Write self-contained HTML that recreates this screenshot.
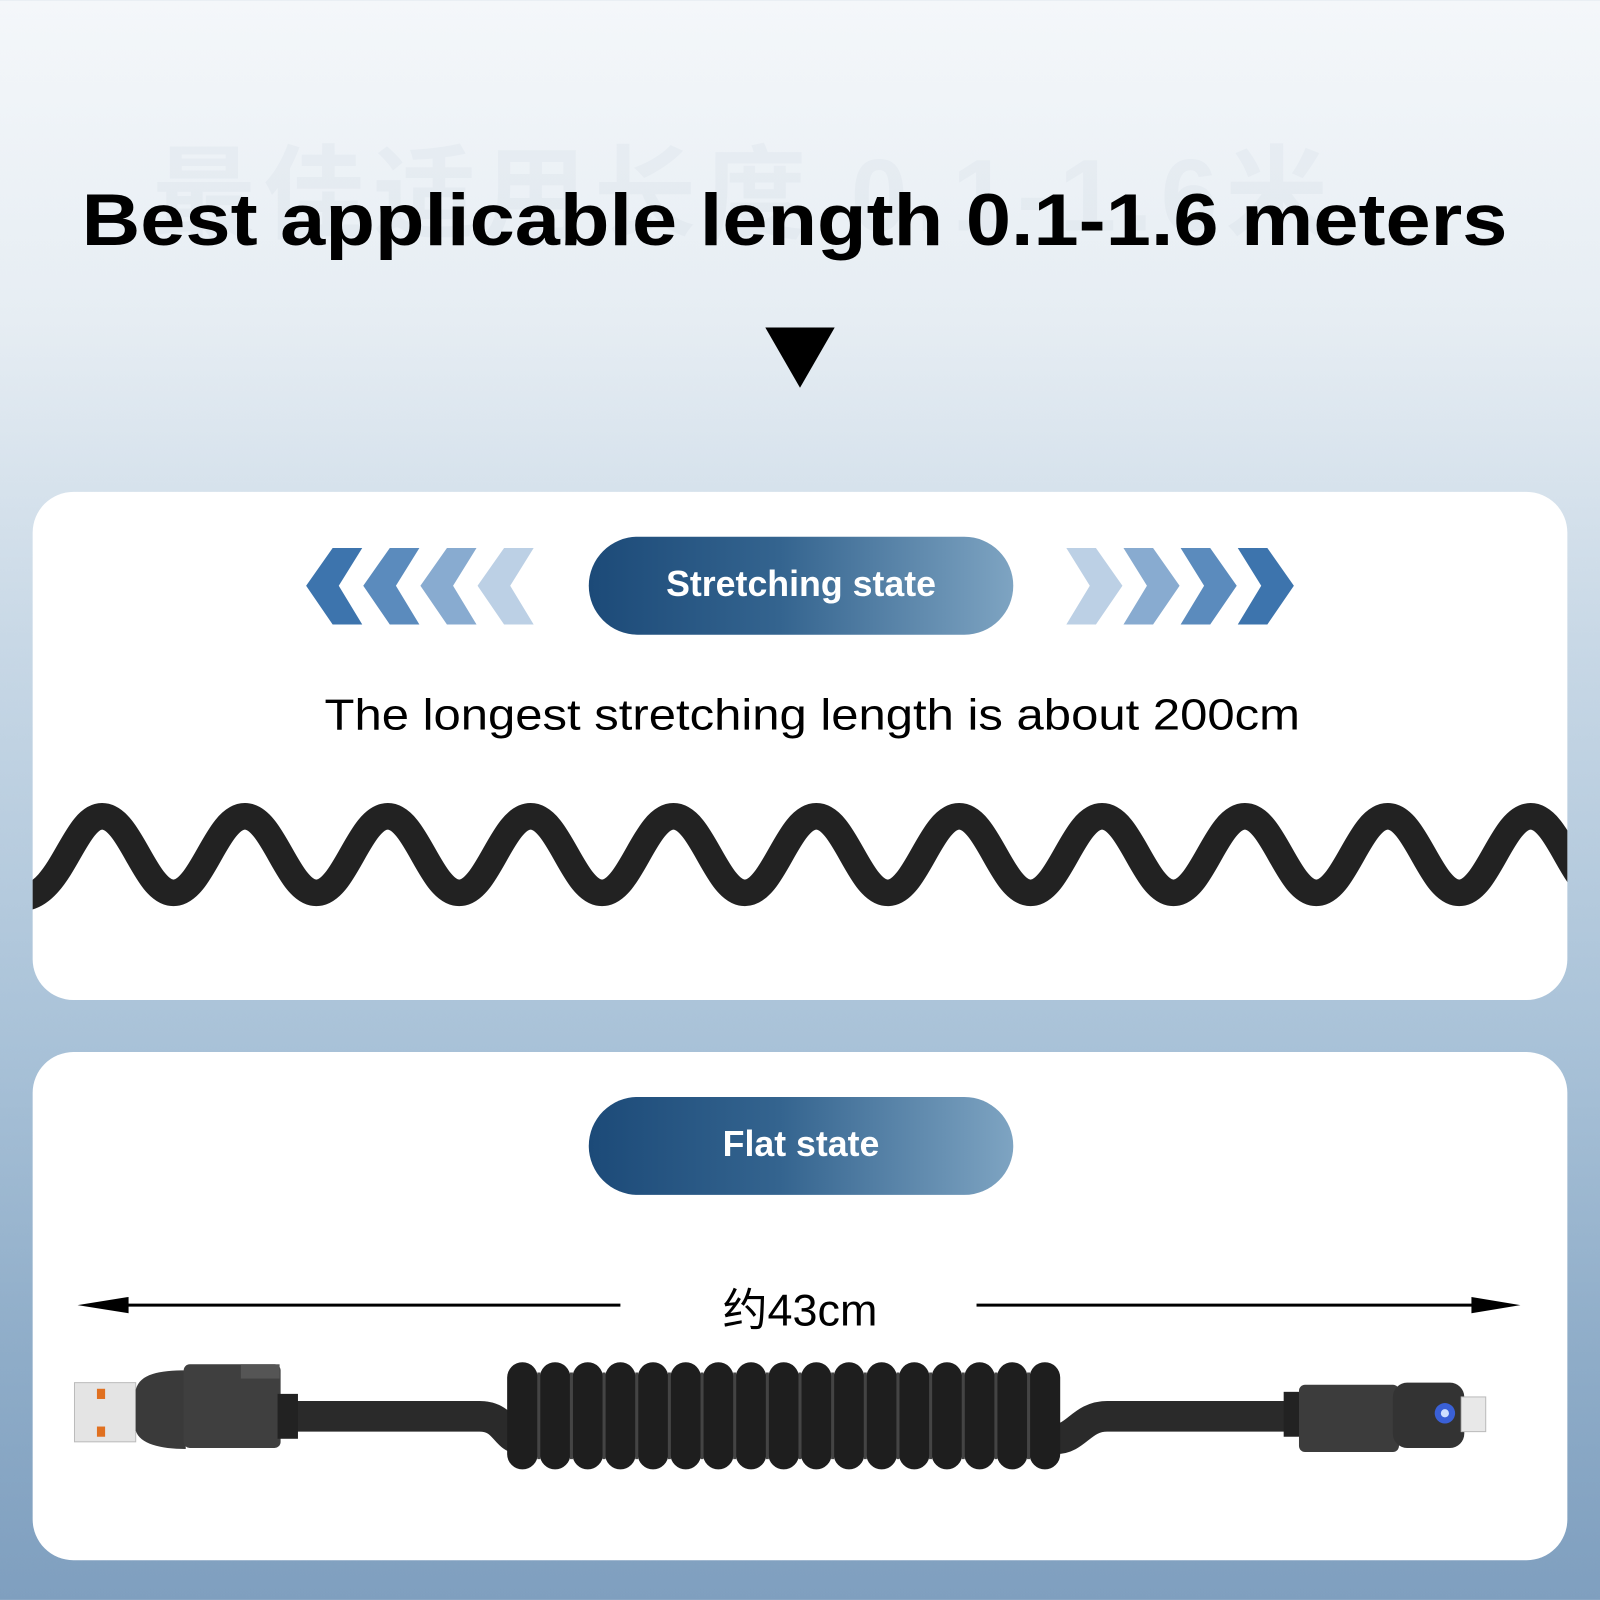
<!DOCTYPE html>
<html><head><meta charset="utf-8"><style>
html,body{margin:0;padding:0}
body{width:1600px;height:1600px;position:relative;overflow:hidden;font-family:"Liberation Sans","Noto Sans CJK SC",sans-serif;
background:linear-gradient(180deg,#f4f7fa 0%,#e6edf3 20%,#c8d8e6 40%,#a9c2d8 65%,#8eacc8 85%,#7f9fbf 100%);}
#w{position:absolute;left:0;top:0;width:1568px;height:1568px;transform:scale(1.020408);transform-origin:0 0}
.ghost{position:absolute;left:150px;top:110px;font-size:100px;color:rgba(200,210,220,0.18);font-weight:bold;letter-spacing:8px;white-space:nowrap}
h1{position:absolute;left:-6px;width:1568px;top:175px;margin:0;text-align:center;font-size:72px;font-weight:bold;color:#000;transform:scaleX(1.105);transform-origin:778px 0}
.card{position:absolute;left:32px;width:1504px;background:#fff;border-radius:40px;overflow:hidden}
.pill{position:absolute;left:577px;width:416px;height:96px;border-radius:48px;background:linear-gradient(90deg,#1c4a78 0%,#34648f 45%,#7ea4c2 100%);color:#fff;font-weight:bold;font-size:35px;text-align:center;line-height:94px}
.sub{position:absolute;left:0;width:1568px;text-align:center;font-size:43px;color:#000}
</style></head><body><div id="w">
<div class="ghost">最佳适用长度 0.1-1.6米</div>
<h1>Best applicable length 0.1-1.6 meters</h1>
<svg style="position:absolute;left:746px;top:320px" width="80" height="64"><polygon points="4,1 72,1 38,60" fill="#000"/></svg>

<div class="card" style="top:482px;height:498px"></div>
<div class="card" style="top:1031px;height:498px"></div>

<svg style="position:absolute;left:0;top:0" width="1568" height="1568">
  <defs><clipPath id="c1"><rect x="32" y="482" width="1504" height="498" rx="40"/></clipPath></defs>
  <g>
    <polygon points="300,574 326,537 355,537 332,574 355,612 326,612" fill="#3d74ad"/>
    <polygon points="356,574 382,537 411,537 388,574 411,612 382,612" fill="#5b8bbd"/>
    <polygon points="412,574 438,537 467,537 444,574 467,612 438,612" fill="#88abd0"/>
    <polygon points="468,574 494,537 523,537 500,574 523,612 494,612" fill="#bcd0e5"/>
    <polygon points="1268,574 1242,537 1213,537 1236,574 1213,612 1242,612" fill="#3d74ad"/>
    <polygon points="1212,574 1186,537 1157,537 1180,574 1157,612 1186,612" fill="#5b8bbd"/>
    <polygon points="1156,574 1130,537 1101,537 1124,574 1101,612 1130,612" fill="#88abd0"/>
    <polygon points="1100,574 1074,537 1045,537 1068,574 1045,612 1074,612" fill="#bcd0e5"/>
  </g>
  <path clip-path="url(#c1)" d="M20,880 C60,880 72,800 100,800 C128,800 142,875 170,875 C198,875 212,800 240,800 C268,800 282,875 310,875 C338,875 352,800 380,800 C408,800 422,875 450,875 C478,875 492,800 520,800 C548,800 562,875 590,875 C618,875 632,800 660,800 C688,800 702,875 730,875 C758,875 772,800 800,800 C828,800 842,875 870,875 C898,875 912,800 940,800 C968,800 982,875 1010,875 C1038,875 1052,800 1080,800 C1108,800 1122,875 1150,875 C1178,875 1192,800 1220,800 C1248,800 1262,875 1290,875 C1318,875 1332,800 1360,800 C1388,800 1402,875 1430,875 C1458,875 1472,800 1500,800 C1528,800 1542,875 1570,875" fill="none" stroke="#222" stroke-width="26"/>
  <line x1="95" y1="1279" x2="608" y2="1279" stroke="#000" stroke-width="3"/>
  <polygon points="76,1279 126,1271 126,1287" fill="#000"/>
  <line x1="957" y1="1279" x2="1470" y2="1279" stroke="#000" stroke-width="3"/>
  <polygon points="1490,1279 1442,1271 1442,1287" fill="#000"/>
  <path d="M285,1388 L470,1388 C495,1388 495,1410 510,1410" stroke="#2a2a2a" stroke-width="30" fill="none"/>
  <path d="M1035,1410 C1055,1410 1060,1388 1085,1388 L1270,1388" stroke="#2a2a2a" stroke-width="30" fill="none"/>
  <g fill="#1e1e1e">
    <rect x="497" y="1335" width="30" height="105" rx="15"/><rect x="529" y="1335" width="30" height="105" rx="15"/>
    <rect x="561" y="1335" width="30" height="105" rx="15"/><rect x="593" y="1335" width="30" height="105" rx="15"/>
    <rect x="625" y="1335" width="30" height="105" rx="15"/><rect x="657" y="1335" width="30" height="105" rx="15"/>
    <rect x="689" y="1335" width="30" height="105" rx="15"/><rect x="721" y="1335" width="30" height="105" rx="15"/>
    <rect x="753" y="1335" width="30" height="105" rx="15"/><rect x="785" y="1335" width="30" height="105" rx="15"/>
    <rect x="817" y="1335" width="30" height="105" rx="15"/><rect x="849" y="1335" width="30" height="105" rx="15"/>
    <rect x="881" y="1335" width="30" height="105" rx="15"/><rect x="913" y="1335" width="30" height="105" rx="15"/>
    <rect x="945" y="1335" width="30" height="105" rx="15"/><rect x="977" y="1335" width="30" height="105" rx="15"/>
    <rect x="1009" y="1335" width="30" height="105" rx="15"/>
  </g>
  <g stroke="#444" stroke-width="3">
    <line x1="528" y1="1345" x2="528" y2="1430"/><line x1="560" y1="1345" x2="560" y2="1430"/><line x1="592" y1="1345" x2="592" y2="1430"/><line x1="624" y1="1345" x2="624" y2="1430"/><line x1="656" y1="1345" x2="656" y2="1430"/><line x1="688" y1="1345" x2="688" y2="1430"/><line x1="720" y1="1345" x2="720" y2="1430"/><line x1="752" y1="1345" x2="752" y2="1430"/><line x1="784" y1="1345" x2="784" y2="1430"/><line x1="816" y1="1345" x2="816" y2="1430"/><line x1="848" y1="1345" x2="848" y2="1430"/><line x1="880" y1="1345" x2="880" y2="1430"/><line x1="912" y1="1345" x2="912" y2="1430"/><line x1="944" y1="1345" x2="944" y2="1430"/><line x1="976" y1="1345" x2="976" y2="1430"/><line x1="1008" y1="1345" x2="1008" y2="1430"/>
  </g>
  <rect x="73" y="1355" width="60" height="58" fill="#e4e4e4" stroke="#bbb"/>
  <rect x="95" y="1361" width="8" height="10" fill="#e07020"/><rect x="95" y="1398" width="8" height="10" fill="#e07020"/>
  <path d="M133,1362 C137,1346 157,1343 182,1343 L182,1420 C157,1420 137,1415 133,1402 Z" fill="#3a3a3a"/>
  <rect x="180" y="1337" width="95" height="82" rx="6" fill="#3f3f3f"/>
  <rect x="236" y="1337" width="38" height="14" fill="#555"/>
  <rect x="272" y="1366" width="20" height="44" fill="#222"/>
  <rect x="1258" y="1364" width="22" height="44" fill="#222"/>
  <rect x="1273" y="1357" width="98" height="66" rx="6" fill="#3c3c3c"/>
  <rect x="1365" y="1355" width="70" height="64" rx="14" fill="#333"/>
  <rect x="1432" y="1369" width="24" height="34" fill="#e8e8e8" stroke="#bbb"/>
  <circle cx="1416" cy="1385" r="10" fill="#3c6cff" opacity="0.8"/>
  <circle cx="1416" cy="1385" r="4" fill="#cfe0ff"/>
</svg>

<div class="pill" style="top:526px">Stretching state</div>
<div class="sub" style="top:677px;left:12px;transform:scaleX(1.117);transform-origin:784px 0">The longest stretching length is about 200cm</div>
<div class="pill" style="top:1075px">Flat state</div>
<div class="sub" style="top:1248px;font-size:44px">约43cm</div>
</div></body></html>
